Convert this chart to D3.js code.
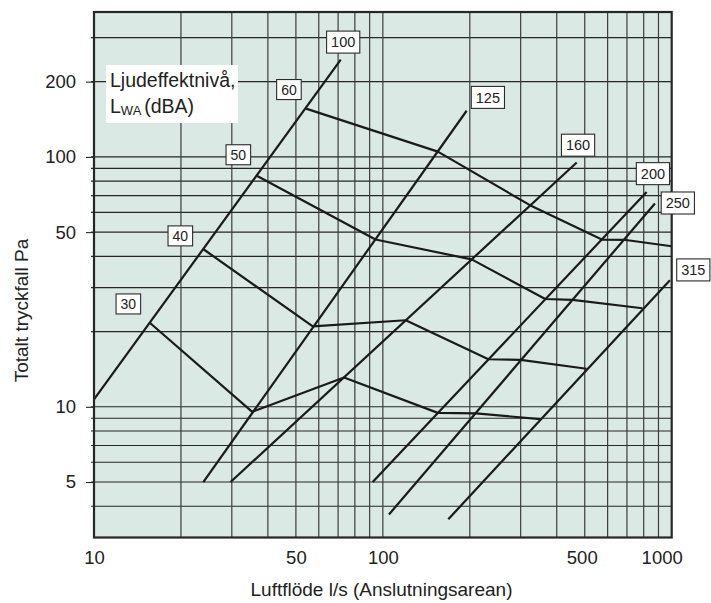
<!DOCTYPE html>
<html>
<head>
<meta charset="utf-8">
<script src="https://cdn.jsdelivr.net/npm/d3@7"></script>
<style>
  body { margin: 0; background: #fff; }
  svg { display: block; font-family: "Liberation Sans", Arial, Helvetica, sans-serif; }
</style>
</head>
<body>
<div id="chart"></div>
<script>
// Duct sizes (Anslutningsarean), straight lines from start to end
const ductSizes = [100, 125, 160, 200, 250, 315];
const ductStart = [[10, 10.7], [23.9, 5], [29.7, 5], [92.2, 5], [105, 3.71], [168.5, 3.55]];
const ductEnd = [[71.5, 245], [195, 153], [469, 95], [819, 72.4], [875, 65.1], [986, 32.1]];
const ductLabelAt = [[72.9, 288], [231, 173], [474, 111.4], [861, 85.7], [1050, 65.4], [1188, 35.3]];

// Sound power level contours, L_WA (dBA)
const soundLevels = [30, 40, 50, 60];
const soundFlow = [
    [15.6, 35.3, 73.4, 155, 210, 350],
    [24.0, 57.2, 120, 232, 300, 507],
    [36.6, 94.3, 203, 365, 454, 792],
    [54.2, 155, 323, 573, 684, 1000]
];
const soundPressure = [
    [21.7, 9.55, 13.1, 9.46, 9.41, 8.93],
    [42.6, 21.0, 22.2, 15.5, 15.4, 14.2],
    [84.0, 46.7, 38.9, 27.0, 26.8, 24.8],
    [156, 105, 64.1, 46.7, 46.6, 43.9]
];
const soundLabelAt = [[13.15, 25.8], [19.9, 48.3], [31.6, 102], [47.3, 186]];

// grid and tick labels
const xGrid = [20, 30, 40, 50, 60, 70, 80, 90, 100, 200, 300, 400, 500, 600, 700, 800, 900];
const yGrid = [4, 5, 6, 7, 8, 9, 10, 20, 30, 40, 50, 60, 70, 80, 90, 100, 200, 300];
const xTickLabels = [10, 50, 100, 500, 1000];
const yTickLabels = [5, 10, 50, 100, 200];

const width = 711, height = 603;

const svg = d3.select('#chart')
    .append('svg')
    .attr('width', width)
    .attr('height', height);

const x = d3.scaleLog().domain([10, 1000]).range([94, 671.7]);
const y = d3.scaleLog().domain([3, 380]).range([537.5, 12]);

// plot background
svg.append('rect')
    .attr('x', x(10)).attr('y', y(380))
    .attr('width', x(1000) - x(10)).attr('height', y(3) - y(380))
    .attr('fill', '#dae9e3');

// grid
svg.append('g').selectAll('line')
    .data(yGrid)
    .join('line')
    .attr('x1', x(10) - 3).attr('x2', x(1000))
    .attr('y1', d => y(d)).attr('y2', d => y(d))
    .attr('stroke', '#262626')
    .attr('stroke-width', 1.1);

svg.append('g').selectAll('line')
    .data(xGrid)
    .join('line')
    .attr('x1', d => x(d)).attr('x2', d => x(d))
    .attr('y1', y(380)).attr('y2', y(3))
    .attr('stroke', '#3c3c3c')
    .attr('stroke-width', 1.2);

// axes (labels only)
const xAxis = svg.append('g')
    .attr('transform', `translate(0,${y(3)})`)
    .call(d3.axisBottom(x).tickValues(xTickLabels).tickFormat(d3.format('d')).tickSize(0).tickPadding(13));
xAxis.select('.domain').remove();
xAxis.selectAll('text')
    .attr('font-size', 18.5)
    .attr('fill', '#222')
    .attr('dx', d => d === 1000 ? -10 : (d === 500 ? -3 : 0));

const yAxis = svg.append('g')
    .attr('transform', `translate(${x(10)},0)`)
    .call(d3.axisLeft(y).tickValues(yTickLabels).tickFormat(d3.format('d')).tickSize(8).tickPadding(10));
yAxis.select('.domain').remove();
yAxis.selectAll('line').attr('stroke', '#262626').attr('stroke-width', 1.1);
yAxis.selectAll('text')
    .attr('font-size', 18.5)
    .attr('fill', '#222');

// legend box
const legend = svg.append('g');
legend.append('rect')
    .attr('x', 106).attr('y', 65)
    .attr('width', 132).attr('height', 58)
    .attr('fill', '#fff');
legend.append('text')
    .attr('x', 110).attr('y', 87)
    .attr('font-size', 19.5)
    .attr('fill', '#222')
    .text('Ljudeffektnivå,');
const l2 = legend.append('text')
    .attr('x', 110).attr('y', 113)
    .attr('font-size', 19.5)
    .attr('fill', '#222');
l2.append('tspan').text('L');
l2.append('tspan').attr('font-size', 13).attr('dy', 2).text('WA ');
l2.append('tspan').attr('dy', -2).text('(dBA)');

// duct lines
svg.append('g').selectAll('line')
    .data(ductSizes)
    .join('line')
    .attr('x1', (d, i) => x(ductStart[i][0])).attr('y1', (d, i) => y(ductStart[i][1]))
    .attr('x2', (d, i) => x(ductEnd[i][0])).attr('y2', (d, i) => y(ductEnd[i][1]))
    .attr('stroke', '#1a1a1a')
    .attr('stroke-width', 2.2);

// sound level contours
const line = d3.line().x(d => x(d[0])).y(d => y(d[1]));
svg.append('g').selectAll('path')
    .data(soundLevels)
    .join('path')
    .attr('d', (d, i) => line(soundFlow[i].map((f, j) => [f, soundPressure[i][j]])))
    .attr('fill', 'none')
    .attr('stroke', '#1a1a1a')
    .attr('stroke-width', 2.2)
    .attr('stroke-linejoin', 'round');

// frame
svg.append('rect')
    .attr('x', x(10)).attr('y', y(380))
    .attr('width', x(1000) - x(10)).attr('height', y(3) - y(380))
    .attr('fill', 'none')
    .attr('stroke', '#262626')
    .attr('stroke-width', 2.2);

// boxed labels
function boxLabel(g, cx, cy, txt, fs, h) {
    const t = g.append('text')
        .attr('x', cx).attr('y', cy)
        .attr('dy', '0.36em')
        .attr('text-anchor', 'middle')
        .attr('font-size', fs)
        .attr('fill', '#222')
        .text(txt);
    const w = t.node().getComputedTextLength() + 9;
    g.insert('rect', 'text')
        .attr('x', cx - w / 2).attr('y', cy - h / 2)
        .attr('width', w).attr('height', h)
        .attr('fill', '#fff')
        .attr('stroke', '#2a2a2a')
        .attr('stroke-width', 1.1);
}

ductSizes.forEach((d, i) => {
    boxLabel(svg.append('g'), x(ductLabelAt[i][0]), y(ductLabelAt[i][1]), d, 14.5, 22);
});
soundLevels.forEach((d, i) => {
    boxLabel(svg.append('g'), x(soundLabelAt[i][0]), y(soundLabelAt[i][1]), d, 14, 20);
});

// axis titles
svg.append('text')
    .attr('x', 381.5).attr('y', 596)
    .attr('text-anchor', 'middle')
    .attr('font-size', 19)
    .attr('fill', '#222')
    .text('Luftflöde l/s (Anslutningsarean)');

svg.append('text')
    .attr('transform', 'translate(27.5,310.5) rotate(-90)')
    .attr('text-anchor', 'middle')
    .attr('font-size', 19)
    .attr('fill', '#222')
    .text('Totalt tryckfall Pa');
</script>
</body>
</html>
